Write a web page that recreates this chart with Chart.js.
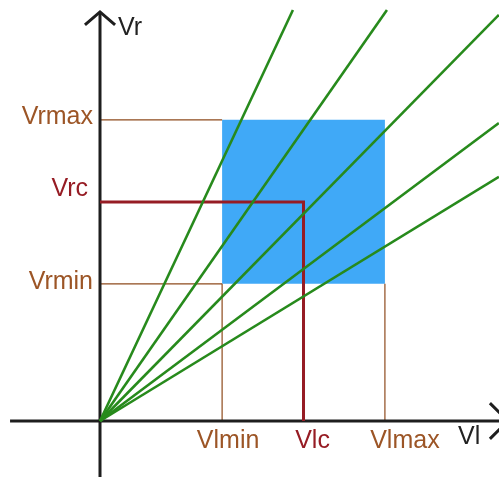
<!DOCTYPE html>
<html>
<head>
<meta charset="utf-8">
<script src="https://cdn.jsdelivr.net/npm/chart.js@4/dist/chart.umd.min.js"></script>
<style>
    html, body { margin: 0; padding: 0; background: #fff; }
    #wrap { width: 499px; height: 477px; position: relative; }
</style>
</head>
<body>
<div id="wrap"><canvas id="diagram"></canvas></div>
<script>
// Operating points on each axis
const vlLabels = ['Vlmin', 'Vlc', 'Vlmax'];
const vlValues = [3, 5, 7];
const vrLabels = ['Vrmin', 'Vrc', 'Vrmax'];
const vrValues = [3.37, 5.38, 7.4];

// Green load lines: all start at the origin, end points below
const lineEndX = [4.74, 7.05, 9.8, 9.8, 9.8];
const lineEndY = [10.1, 10.1, 9.98, 7.32, 6.0];

const axisNames = ['Vl', 'Vr'];

const BROWN = '#9c5526';
const RED = '#961c24';
const GREEN = '#278a1c';
const AXIS = '#1e1e1e';
const FONT = '25px "Liberation Sans", Arial, sans-serif';

// label placement tweaks (pixels)
const vlLabelDx = [6, 9, 20];
const vrLabelDx = [-7, -12, -7];
const vrLabelDy = [-2, -13, -3];
const labelColors = [BROWN, RED, BROWN];

function seg(x1, y1, x2, y2) {
    return [{ x: x1, y: y1 }, { x: x2, y: y2 }];
}

const datasets = [];

// blue tolerance box
datasets.push({
    data: seg(vlValues[0], vrValues[2], vlValues[2], vrValues[2]),
    borderWidth: 0,
    backgroundColor: '#40a9f7',
    fill: { value: vrValues[0] },
    order: 10
});

// brown guide lines
[[0, vrValues[2], vlValues[0], vrValues[2]],
 [0, vrValues[0], vlValues[0], vrValues[0]],
 [vlValues[0], 0, vlValues[0], vrValues[0]],
 [vlValues[2], 0, vlValues[2], vrValues[0]]].forEach(s => {
    datasets.push({
        data: seg(s[0], s[1], s[2], s[3]),
        borderColor: '#8e4a1c',
        borderWidth: 1.2,
        order: 8
    });
});

// axes with arrow heads
datasets.push({ data: seg(-2.21, 0, 10.02, 0), borderColor: AXIS, borderWidth: 3, order: 6 });
datasets.push({ data: seg(0, -1.4, 0, 10.05), borderColor: AXIS, borderWidth: 3, order: 6 });
datasets.push({
    data: [{ x: -0.37, y: 9.73 }, { x: 0, y: 10.05 }, { x: 0.37, y: 9.73 }],
    borderColor: AXIS, borderWidth: 3, order: 6
});
datasets.push({
    data: [{ x: 9.58, y: 0.44 }, { x: 10.02, y: 0 }, { x: 9.58, y: -0.44 }],
    borderColor: AXIS, borderWidth: 3, order: 6
});

// red operating point
datasets.push({
    data: [{ x: 0, y: vrValues[1] }, { x: vlValues[1], y: vrValues[1] }, { x: vlValues[1], y: 0 }],
    borderColor: RED,
    borderWidth: 3,
    order: 4
});

// green lines
lineEndX.forEach((x, i) => {
    datasets.push({
        data: seg(0, 0, x, lineEndY[i]),
        borderColor: GREEN,
        borderWidth: 2.6,
        order: 2
    });
});

const labelPlugin = {
    id: 'labels',
    afterDatasetsDraw(chart) {
        const ctx = chart.ctx;
        const xs = chart.scales.x;
        const ys = chart.scales.y;
        const x0 = xs.getPixelForValue(0);
        const y0 = ys.getPixelForValue(0);
        ctx.save();
        ctx.font = FONT;
        ctx.textBaseline = 'middle';

        ctx.textAlign = 'center';
        vlLabels.forEach((t, i) => {
            ctx.fillStyle = labelColors[i];
            ctx.fillText(t, xs.getPixelForValue(vlValues[i]) + vlLabelDx[i], y0 + 20);
        });

        ctx.textAlign = 'right';
        vrLabels.forEach((t, i) => {
            ctx.fillStyle = labelColors[i];
            ctx.fillText(t, x0 + vrLabelDx[i], ys.getPixelForValue(vrValues[i]) + vrLabelDy[i]);
        });

        ctx.fillStyle = '#222';
        ctx.textAlign = 'left';
        ctx.fillText(axisNames[0], 458, y0 + 16);
        ctx.fillText(axisNames[1], x0 + 18, 28);
        ctx.restore();
    }
};

new Chart(document.getElementById('diagram'), {
    type: 'line',
    data: { datasets: datasets },
    options: {
        responsive: true,
        maintainAspectRatio: false,
        animation: false,
        layout: { padding: 0 },
        elements: {
            point: { radius: 0, hoverRadius: 0 },
            line: { tension: 0, fill: false, borderCapStyle: 'butt', borderJoinStyle: 'miter' }
        },
        plugins: {
            legend: { display: false },
            tooltip: { enabled: false }
        },
        events: [],
        scales: {
            x: { type: 'linear', display: false, min: -2.457, max: 9.803 },
            y: { type: 'linear', display: false, min: -1.376, max: 10.344 }
        }
    },
    plugins: [labelPlugin]
});
</script>
</body>
</html>
